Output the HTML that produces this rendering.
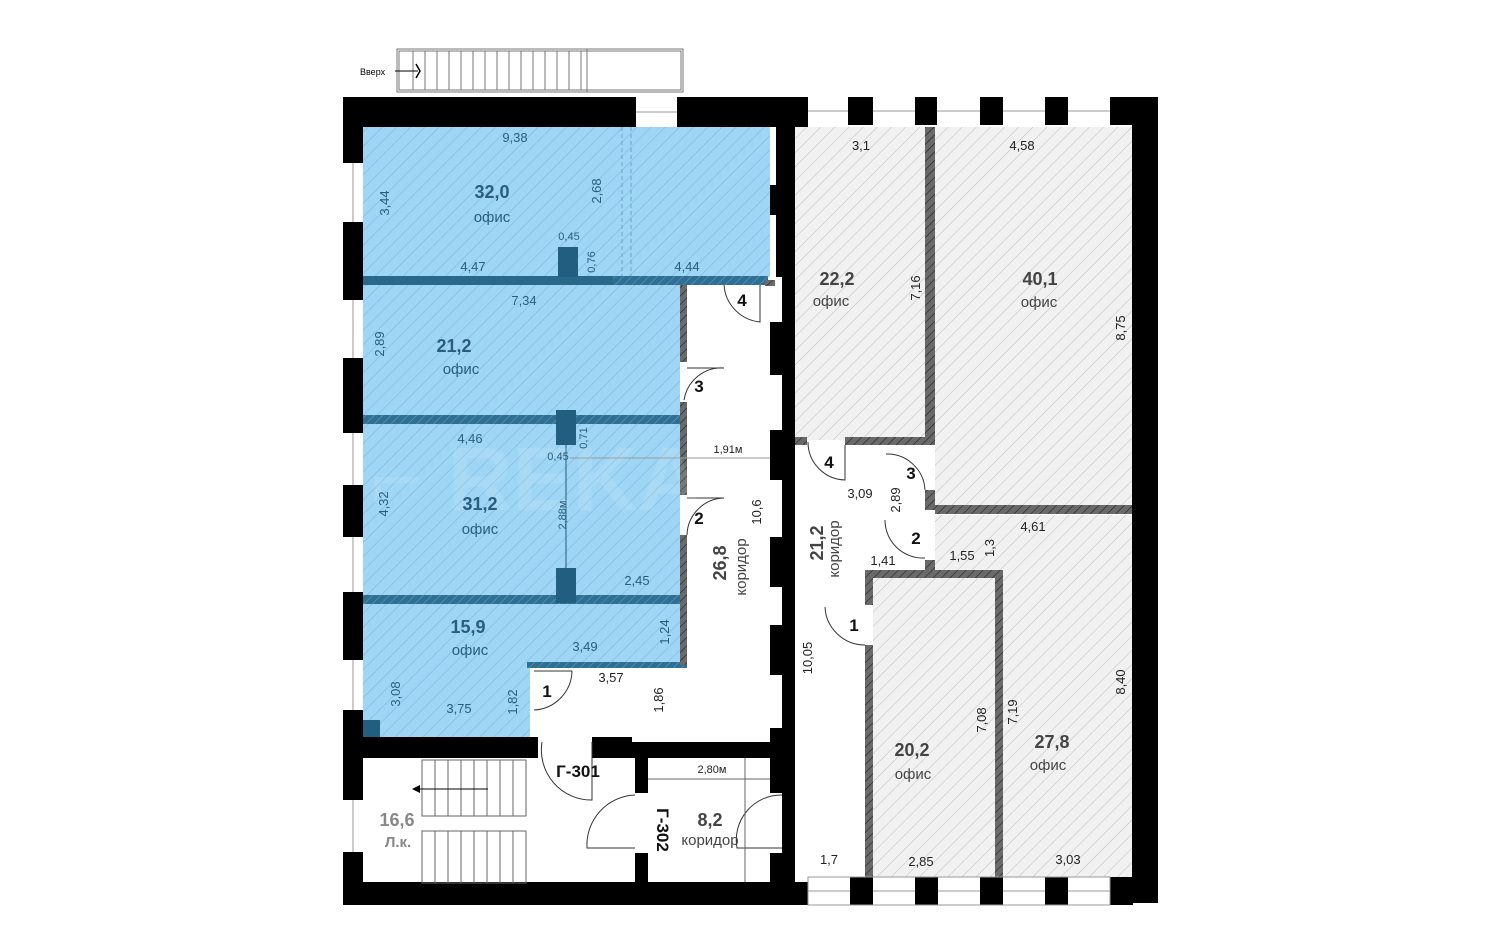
<!DOCTYPE html>
<html><head><meta charset="utf-8"><style>
html,body{margin:0;padding:0;background:#fff;}
svg{display:block;font-family:"Liberation Sans","DejaVu Sans",sans-serif;}
</style></head><body>
<svg width="1500" height="950" viewBox="0 0 1500 950" xmlns="http://www.w3.org/2000/svg">
<defs>
<pattern id="hb" width="10" height="10" patternUnits="userSpaceOnUse" patternTransform="rotate(45)">
<rect width="10" height="10" fill="#9fd6f5"/><line x1="0" y1="0" x2="0" y2="10" stroke="#7cb8da" stroke-width="1.2"/></pattern>
<pattern id="hg" width="10" height="10" patternUnits="userSpaceOnUse" patternTransform="rotate(45)">
<rect width="10" height="10" fill="#f1f1f1"/><line x1="0" y1="0" x2="0" y2="10" stroke="#bdbdbd" stroke-width="1"/></pattern>
<pattern id="hw" width="6" height="6" patternUnits="userSpaceOnUse" patternTransform="rotate(45)">
<rect width="6" height="6" fill="#6a6a6a"/><line x1="0" y1="0" x2="0" y2="6" stroke="#222" stroke-width="1.2"/></pattern>
<pattern id="hbw" width="6" height="6" patternUnits="userSpaceOnUse" patternTransform="rotate(45)">
<rect width="6" height="6" fill="#2f6f93"/><line x1="0" y1="0" x2="0" y2="6" stroke="#5d9cbf" stroke-width="1.2"/></pattern>
</defs>

<!-- top stair -->
<g stroke="#777" fill="none" stroke-width="1">
<rect x="397" y="49" width="286" height="43"/>
<rect x="399" y="51" width="282" height="39"/>
<line x1="587" y1="49" x2="587" y2="92"/>
<line x1="425" y1="51" x2="425" y2="90"/><line x1="437" y1="51" x2="437" y2="90"/><line x1="449" y1="51" x2="449" y2="90"/><line x1="461" y1="51" x2="461" y2="90"/><line x1="473" y1="51" x2="473" y2="90"/><line x1="485" y1="51" x2="485" y2="90"/><line x1="497" y1="51" x2="497" y2="90"/><line x1="509" y1="51" x2="509" y2="90"/><line x1="521" y1="51" x2="521" y2="90"/><line x1="533" y1="51" x2="533" y2="90"/><line x1="545" y1="51" x2="545" y2="90"/><line x1="557" y1="51" x2="557" y2="90"/><line x1="569" y1="51" x2="569" y2="90"/><line x1="581" y1="51" x2="581" y2="90"/>
<line x1="413" y1="51" x2="413" y2="90"/>
</g>
<line x1="395" y1="71" x2="418" y2="71" stroke="#000"/>
<path d="M416 64 L420 71 L416 78" stroke="#000" fill="none" stroke-width="1.5"/>
<text x="360" y="75" font-size="9" fill="#000">Вверх</text>

<!-- blue rooms -->
<rect x="363" y="127" width="407" height="150" fill="url(#hb)"/>
<rect x="363" y="285" width="320" height="135" fill="url(#hb)"/>
<rect x="363" y="420" width="320" height="180" fill="url(#hb)"/>
<path d="M363 600 H683 V665 H530 V737 H363 Z" fill="url(#hb)"/>
<line x1="622" y1="127" x2="622" y2="277" stroke="#6aa6c8" stroke-dasharray="4 3"/>
<line x1="631" y1="127" x2="631" y2="277" stroke="#6aa6c8" stroke-dasharray="4 3"/>
<!-- blue walls -->
<rect x="363" y="276" width="250" height="9" fill="#2a6889"/>
<rect x="613" y="276" width="155" height="9" fill="url(#hbw)"/>
<rect x="363" y="415" width="320" height="9" fill="url(#hbw)"/>
<rect x="363" y="595" width="320" height="9" fill="url(#hbw)"/>
<rect x="527" y="662" width="160" height="6" fill="url(#hbw)"/>
<rect x="558" y="247" width="20" height="30" fill="#215e80"/>
<rect x="556" y="410" width="20" height="35" fill="#215e80"/>
<rect x="556" y="568" width="20" height="35" fill="#215e80"/>
<rect x="363" y="720" width="17" height="17" fill="#215e80"/>
<line x1="566" y1="445" x2="566" y2="568" stroke="#215e80"/>
<!-- corridor walls -->
<rect x="680" y="285" width="7" height="380" fill="url(#hw)"/>
<rect x="680" y="362" width="7" height="40" fill="#fff"/>
<rect x="680" y="495" width="7" height="40" fill="#fff"/>
<rect x="765" y="280" width="10" height="6" fill="url(#hw)"/>

<!-- right block gray rooms -->
<rect x="795" y="127" width="130" height="313" fill="url(#hg)"/>
<rect x="935" y="127" width="197" height="380" fill="url(#hg)"/>
<path d="M935 515 H1132 V877 H1003 V570 H935 Z" fill="url(#hg)"/>
<rect x="873" y="578" width="122" height="299" fill="url(#hg)"/>
<rect x="925" y="127" width="10" height="318" fill="url(#hw)"/>
<rect x="795" y="437" width="12" height="8" fill="url(#hw)"/>
<rect x="845" y="437" width="90" height="8" fill="url(#hw)"/>
<rect x="925" y="490" width="10" height="20" fill="url(#hw)"/>
<rect x="935" y="505" width="197" height="9" fill="url(#hw)"/>
<rect x="925" y="560" width="10" height="18" fill="url(#hw)"/>
<rect x="865" y="570" width="138" height="8" fill="url(#hw)"/>
<rect x="865" y="570" width="8" height="35" fill="url(#hw)"/>
<rect x="865" y="645" width="8" height="232" fill="url(#hw)"/>
<rect x="995" y="570" width="8" height="307" fill="url(#hw)"/>

<!-- outer black walls -->
<g fill="#000">
<rect x="343" y="97" width="293" height="30"/>
<rect x="677" y="97" width="131" height="30"/>
<rect x="848" y="97" width="25" height="28"/>
<rect x="915" y="97" width="22" height="28"/>
<rect x="980" y="97" width="23" height="28"/>
<rect x="1045" y="97" width="23" height="28"/>
<rect x="1110" y="97" width="48" height="28"/>
<rect x="1132" y="97" width="26" height="806"/>
<rect x="343" y="97" width="20" height="66"/>
<rect x="343" y="222" width="20" height="78"/>
<rect x="343" y="358" width="20" height="75"/>
<rect x="343" y="485" width="20" height="52"/>
<rect x="343" y="592" width="20" height="68"/>
<rect x="343" y="710" width="20" height="90"/>
<rect x="343" y="852" width="20" height="53"/>
<rect x="343" y="882" width="465" height="23"/>
<rect x="850" y="877" width="23" height="28"/>
<rect x="915" y="877" width="23" height="28"/>
<rect x="980" y="877" width="23" height="28"/>
<rect x="1045" y="877" width="23" height="28"/>
<rect x="1110" y="877" width="23" height="28"/>
<rect x="770" y="127" width="25" height="150"/>
<rect x="782" y="277" width="13" height="605"/>
<rect x="770" y="322" width="25" height="53"/>
<rect x="770" y="430" width="25" height="50"/>
<rect x="770" y="537" width="25" height="50"/>
<rect x="770" y="625" width="25" height="50"/>
<rect x="770" y="728" width="25" height="65"/>
<rect x="363" y="737" width="175" height="21"/>
<rect x="592" y="737" width="40" height="21"/>
<rect x="632" y="742" width="150" height="16"/>
<rect x="635" y="758" width="13" height="35"/>
<rect x="635" y="853" width="13" height="29"/>
<rect x="770" y="758" width="12" height="35"/>
<rect x="770" y="853" width="25" height="29"/>
</g>
<rect x="770" y="127" width="6" height="150" fill="#fff"/>
<rect x="770" y="185" width="25" height="30" fill="#000"/>
<!-- window lines -->
<g stroke="#999" stroke-width="1">
<line x1="353" y1="163" x2="353" y2="222"/><line x1="353" y1="300" x2="353" y2="358"/><line x1="353" y1="433" x2="353" y2="485"/><line x1="353" y1="537" x2="353" y2="592"/><line x1="353" y1="660" x2="353" y2="710"/><line x1="353" y1="800" x2="353" y2="852"/>
<line x1="636" y1="112" x2="677" y2="112"/>
<line x1="808" y1="111" x2="848" y2="111"/><line x1="873" y1="111" x2="915" y2="111"/><line x1="937" y1="111" x2="980" y2="111"/><line x1="1003" y1="111" x2="1045" y2="111"/><line x1="1068" y1="111" x2="1110" y2="111"/>
<line x1="808" y1="891" x2="850" y2="891"/><line x1="873" y1="891" x2="915" y2="891"/><line x1="938" y1="891" x2="980" y2="891"/><line x1="1003" y1="891" x2="1045" y2="891"/><line x1="1068" y1="891" x2="1110" y2="891"/>
<rect x="808" y="877" width="302" height="28" fill="none"/>
</g>

<!-- doors -->
<g stroke="#333" fill="none" stroke-width="1">
<path d="M724 285 A40 40 0 0 0 760 322 V285"/>
<path d="M724 368 A38 38 0 0 0 684 400"/><line x1="687" y1="368" x2="724" y2="368"/>
<path d="M724 498 A38 38 0 0 0 687 535"/><line x1="687" y1="498" x2="724" y2="498"/>
<path d="M572 671 A40 40 0 0 1 534 710"/><line x1="534" y1="671" x2="572" y2="671"/>
<path d="M808 442 A38 38 0 0 0 845 480 V445"/>
<path d="M886 454 A38 38 0 0 1 925 490"/>
<path d="M885 520 A38 38 0 0 0 925 558"/>
<path d="M825 607 A40 40 0 0 0 865 645"/>
<path d="M542 742 A50 50 0 0 0 592 800 V742"/>
<path d="M635 795 A50 50 0 0 0 587 848 H635"/>
<path d="M782 795 A45 45 0 0 0 737 848 H782"/>
</g>

<!-- stairs in Л.к. -->
<g stroke="#666" fill="none">
<rect x="422" y="760" width="104" height="56"/>
<rect x="422" y="831" width="104" height="52"/>
<line x1="435" y1="760" x2="435" y2="816"/><line x1="448" y1="760" x2="448" y2="816"/><line x1="461" y1="760" x2="461" y2="816"/><line x1="474" y1="760" x2="474" y2="816"/><line x1="487" y1="760" x2="487" y2="816"/><line x1="500" y1="760" x2="500" y2="816"/><line x1="513" y1="760" x2="513" y2="816"/>
<line x1="435" y1="831" x2="435" y2="883"/><line x1="448" y1="831" x2="448" y2="883"/><line x1="461" y1="831" x2="461" y2="883"/><line x1="474" y1="831" x2="474" y2="883"/><line x1="487" y1="831" x2="487" y2="883"/><line x1="500" y1="831" x2="500" y2="883"/><line x1="513" y1="831" x2="513" y2="883"/>
<line x1="745" y1="758" x2="745" y2="882"/><line x1="648" y1="779" x2="770" y2="779"/>
<line x1="570" y1="458" x2="770" y2="458" stroke="#999"/>
</g>
<line x1="418" y1="789" x2="488" y2="789" stroke="#000"/>
<path d="M412 789 L420 785 L420 793 Z" fill="#000"/>

<!-- watermark -->
<text x="370" y="510" font-size="90" font-weight="bold" fill="#ffffff" fill-opacity="0.1">⌐ REKA</text>

<!-- labels -->
<g font-size="13" fill="#2b5d7d" text-anchor="middle">
<text x="515" y="142">9,38</text>
<text x="473" y="271">4,47</text>
<text x="687" y="271">4,44</text>
<text x="569" y="240" font-size="11">0,45</text>
<text x="524" y="305">7,34</text>
<text x="470" y="443">4,46</text>
<text x="558" y="460" font-size="11">0,45</text>
<text x="637" y="585">2,45</text>
<text x="585" y="651">3,49</text>
<text x="459" y="713">3,75</text>
<text x="389" y="203" transform="rotate(-90 389 203)">3,44</text>
<text x="601" y="191" transform="rotate(-90 601 191)">2,68</text>
<text x="595" y="262" transform="rotate(-90 595 262)" font-size="11">0,76</text>
<text x="384" y="344" transform="rotate(-90 384 344)">2,89</text>
<text x="587" y="438" transform="rotate(-90 587 438)" font-size="11">0,71</text>
<text x="388" y="504" transform="rotate(-90 388 504)">4,32</text>
<text x="566" y="515" transform="rotate(-90 566 515)" font-size="11">2,88м</text>
<text x="669" y="632" transform="rotate(-90 669 632)">1,24</text>
<text x="400" y="694" transform="rotate(-90 400 694)">3,08</text>
<text x="517" y="702" transform="rotate(-90 517 702)">1,82</text>
</g>
<g fill="#2b5d7d" text-anchor="middle">
<text x="492" y="198" font-size="18" font-weight="bold">32,0</text><text x="492" y="222" font-size="15">офис</text>
<text x="454" y="352" font-size="18" font-weight="bold">21,2</text><text x="461" y="374" font-size="15">офис</text>
<text x="480" y="510" font-size="18" font-weight="bold">31,2</text><text x="480" y="534" font-size="15">офис</text>
<text x="468" y="633" font-size="18" font-weight="bold">15,9</text><text x="470" y="655" font-size="15">офис</text>
</g>
<g font-size="13" fill="#222" text-anchor="middle">
<text x="611" y="682">3,57</text>
<text x="728" y="453" font-size="11">1,91м</text>
<text x="712" y="773" font-size="11">2,80м</text>
<text x="663" y="700" transform="rotate(-90 663 700)">1,86</text>
<text x="761" y="512" transform="rotate(-90 761 512)">10,6</text>
<text x="812" y="658" transform="rotate(-90 812 658)">10,05</text>
<text x="861" y="150">3,1</text>
<text x="1022" y="150">4,58</text>
<text x="920" y="288" transform="rotate(-90 920 288)">7,16</text>
<text x="1125" y="328" transform="rotate(-90 1125 328)">8,75</text>
<text x="860" y="498">3,09</text>
<text x="900" y="500" transform="rotate(-90 900 500)">2,89</text>
<text x="1033" y="531">4,61</text>
<text x="883" y="565">1,41</text>
<text x="962" y="560">1,55</text>
<text x="994" y="548" transform="rotate(-90 994 548)">1,3</text>
<text x="986" y="720" transform="rotate(-90 986 720)">7,08</text>
<text x="1017" y="712" transform="rotate(-90 1017 712)">7,19</text>
<text x="1125" y="682" transform="rotate(-90 1125 682)">8,40</text>
<text x="829" y="864">1,7</text>
<text x="921" y="866">2,85</text>
<text x="1068" y="864">3,03</text>
</g>
<g fill="#444" text-anchor="middle">
<text x="837" y="285" font-size="18" font-weight="bold">22,2</text><text x="831" y="306" font-size="15">офис</text>
<text x="1040" y="285" font-size="18" font-weight="bold">40,1</text><text x="1039" y="307" font-size="15">офис</text>
<text x="912" y="756" font-size="18" font-weight="bold">20,2</text><text x="913" y="779" font-size="15">офис</text>
<text x="1052" y="748" font-size="18" font-weight="bold">27,8</text><text x="1048" y="770" font-size="15">офис</text>
<text x="710" y="826" font-size="18" font-weight="bold">8,2</text><text x="710" y="845" font-size="15">коридор</text>
<text x="397" y="826" font-size="18" font-weight="bold" fill="#888">16,6</text><text x="398" y="847" font-size="15" font-weight="bold" fill="#888">Л.к.</text>
<text x="726" y="563" font-size="18" font-weight="bold" transform="rotate(-90 726 563)">26,8</text>
<text x="746" y="567" font-size="15" transform="rotate(-90 746 567)">коридор</text>
<text x="823" y="543" font-size="18" font-weight="bold" transform="rotate(-90 823 543)">21,2</text>
<text x="839" y="549" font-size="15" transform="rotate(-90 839 549)">коридор</text>
</g>
<g font-size="17" font-weight="bold" fill="#111" text-anchor="middle">
<text x="742" y="306">4</text><text x="699" y="392">3</text><text x="699" y="524">2</text><text x="547" y="697">1</text>
<text x="829" y="468">4</text><text x="911" y="479">3</text><text x="916" y="544">2</text><text x="854" y="631">1</text>
<text x="578" y="777">Г-301</text>
<text x="657" y="830" transform="rotate(90 657 830)">Г-302</text>
</g>
</svg>
</body></html>
